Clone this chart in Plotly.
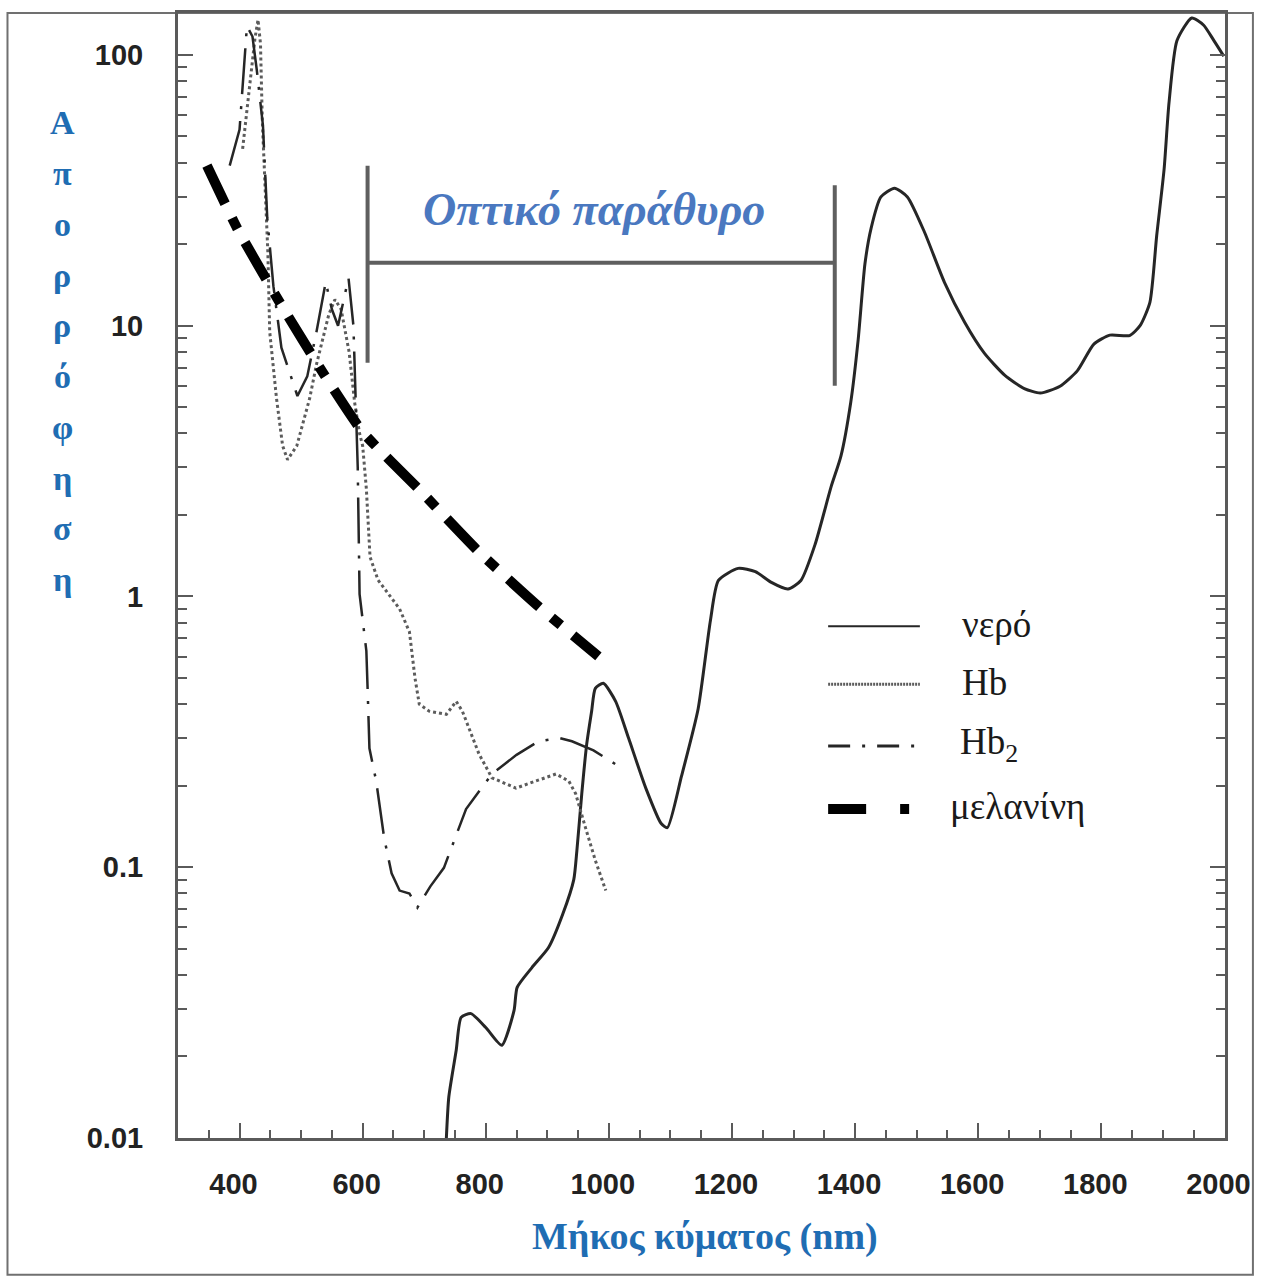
import plotly.graph_objects as go

# ---------------- data ----------------
water_nm = [736, 740, 752, 760, 776, 800, 826, 846, 851, 875, 902, 925, 943, 948, 956, 964, 972, 978,
            991, 1011, 1032, 1060, 1085, 1095, 1118, 1145, 1165, 1178, 1210, 1238, 1264, 1291, 1312, 1335,
            1361, 1377, 1393, 1405, 1416, 1426, 1442, 1464, 1485, 1513, 1545, 1578, 1610, 1643, 1675, 1701,
            1733, 1761, 1788, 1814, 1846, 1863, 1879, 1890, 1902, 1910, 1923, 1947, 1966, 1983, 1999]
water_abs = [0.01, 0.0142, 0.0211, 0.0279, 0.0288, 0.0256, 0.022, 0.0296, 0.036, 0.0426, 0.0505, 0.067, 0.09,
             0.115, 0.187, 0.285, 0.377, 0.458, 0.478, 0.41, 0.30, 0.196, 0.145, 0.14, 0.217, 0.384, 0.816,
             1.146, 1.27, 1.236, 1.127, 1.066, 1.146, 1.556, 2.54, 3.30, 5.22, 8.87, 16.9, 22.9, 29.9, 32.2,
             29.9, 22.1, 14.5, 10.3, 7.92, 6.57, 5.86, 5.64, 5.98, 6.81, 8.55, 9.23, 9.2, 10.0, 12.2, 21.5,
             37.7, 66.5, 113, 137, 129, 113, 99]

hb_nm = [405, 418, 425, 430, 434, 437, 444, 446, 449, 460, 470, 478, 493, 502, 514, 525, 535, 545, 555,
         565, 578, 587, 595, 600, 606, 612, 625, 645, 660, 676, 685, 692, 708, 736, 752, 762, 789, 810,
         849, 881, 914, 935, 946, 962, 978, 995]
hb_abs = [45, 80, 115, 135, 110, 57, 26, 18.6, 9.5, 5.4, 3.6, 3.2, 3.6, 4.3, 5.4, 7.2, 8.9, 11, 12.5,
          11.5, 8, 5.2, 4.0, 3.6, 2.5, 1.4, 1.15, 1.0, 0.9, 0.74, 0.5, 0.40, 0.377, 0.367, 0.41, 0.377,
          0.262, 0.214, 0.196, 0.208, 0.221, 0.208, 0.187, 0.14, 0.106, 0.082]

hbo2_nm = [384, 400, 412, 421, 428, 438, 445, 455, 468, 494, 510, 525, 540, 550, 560, 568, 577, 585,
           592, 595, 606, 608, 611, 622, 635, 647, 660, 676, 689, 710, 732, 768, 810, 850, 886, 920,
           940, 975, 1011]
hbo2_abs = [39, 53, 128, 117, 88, 55, 25, 14, 8.3, 5.5, 6.5, 9.5, 14.5, 11.5, 10, 12, 15, 10,
            3, 1.02, 0.63, 0.46, 0.275, 0.208, 0.128, 0.095, 0.082, 0.080, 0.071, 0.085, 0.0995, 0.164,
            0.221, 0.26, 0.292, 0.30, 0.292, 0.27, 0.24]

melanin_nm = [347, 397, 468, 538, 600, 692, 789, 886, 983]
melanin_abs = [39.0, 22.7, 11.9, 6.57, 4.05, 2.48, 1.46, 0.918, 0.601]

# optical window bracket
window_nm = [608, 1367]
window_left_span = [7.3, 39]
window_right_span = [6.0, 33]
window_bar_level = 17.1

x_tickvals = [400, 600, 800, 1000, 1200, 1400, 1600, 1800, 2000]
x_ticktext = ["400", "600", "800", "1000", "1200", "1400", "1600", "1800", "2000"]
y_tickvals = [0.01, 0.1, 1, 10, 100]
y_ticktext = ["0.01", "0.1", "1", "10", "100"]

legend_labels = ["νερό", "Hb", "Hb<sub>2</sub>", "μελανίνη"]
y_title = "Απορρόφηση"
x_title = "Μήκος κύματος (nm)"
window_label = "Οπτικό παράθυρο"

# ---------------- styles ----------------
W, H = 1261, 1279
ML, MR, MT, MB = 178, 33, 10, 141
PW, PH = W - ML - MR, H - MT - MB
AXC = "#5a5a5a"
BLUE = "#1f6db3"
WBLUE = "#4a78c0"
SERIF = "Liberation Serif, Times New Roman, serif"
SANS = "Liberation Sans, Arial, sans-serif"

def px2paper_x(px):
    return (px - ML) / PW

def py2paper_y(py):
    return (MT + PH - py) / PH

styles = {
    "water": dict(color="#262626", width=3, dash="solid"),
    "hb": dict(color="#5c5c5c", width=3, dash="3px,3px"),
    "hbo2": dict(color="#262626", width=2.5, dash="46px,12px,3px,12px"),
    "melanin": dict(color="#000000", width=10, dash="42px,16px,12px,16px"),
}

fig = go.Figure()
fig.add_trace(go.Scatter(x=water_nm, y=water_abs, mode="lines",
                         line=dict(**styles["water"], shape="spline", smoothing=0.6), showlegend=False))
fig.add_trace(go.Scatter(x=hb_nm, y=hb_abs, mode="lines",
                         line=dict(**styles["hb"]), showlegend=False))
fig.add_trace(go.Scatter(x=hbo2_nm, y=hbo2_abs, mode="lines",
                         line=dict(**styles["hbo2"]), showlegend=False))
fig.add_trace(go.Scatter(x=melanin_nm, y=melanin_abs, mode="lines",
                         line=dict(**styles["melanin"], shape="spline", smoothing=0.5), showlegend=False))

# bracket for the optical window
br = dict(color="#5f5f5f", width=4)
fig.add_trace(go.Scatter(x=[window_nm[0], window_nm[0]], y=window_left_span, mode="lines",
                         line=br, showlegend=False, hoverinfo="skip"))
fig.add_trace(go.Scatter(x=[window_nm[1], window_nm[1]], y=window_right_span, mode="lines",
                         line=br, showlegend=False, hoverinfo="skip"))
fig.add_trace(go.Scatter(x=window_nm, y=[window_bar_level, window_bar_level], mode="lines",
                         line=br, showlegend=False, hoverinfo="skip"))

annotations = []
shapes = []

# window label
annotations.append(dict(text=window_label, x=px2paper_x(595), y=py2paper_y(207),
                        xref="paper", yref="paper", showarrow=False, xanchor="center", yanchor="middle",
                        font=dict(family=SERIF, size=46, color=WBLUE, style="italic", weight="bold")))

# y-axis title: stacked letters
for i, ch in enumerate(y_title):
    annotations.append(dict(text=ch, x=px2paper_x(62), y=py2paper_y(120 + i * 50.9),
                            xref="paper", yref="paper", showarrow=False, xanchor="center",
                            yanchor="middle",
                            font=dict(family=SERIF, size=34, color=BLUE, weight="bold")))

# x-axis title
annotations.append(dict(text=x_title, x=px2paper_x(707), y=py2paper_y(1237), xref="paper", yref="paper",
                        showarrow=False, xanchor="center", yanchor="middle",
                        font=dict(family=SERIF, size=38, color=BLUE, weight="bold")))

# custom legend
leg_rows = [625, 683, 745, 808]
leg_text_x = [962, 962, 960, 950]
leg_keys = ["water", "hb", "hbo2", "melanin"]
leg_dash = {"water": "solid", "hb": "2px,1px", "hbo2": "22px,12px,3px,12px",
            "melanin": "38px,34px,9px,20px"}
leg_width = {"water": 2, "hb": 3, "hbo2": 3, "melanin": 10}
for key, row, tx, label in zip(leg_keys, leg_rows, leg_text_x, legend_labels):
    shapes.append(dict(type="line", xref="paper", yref="paper",
                       x0=px2paper_x(830), x1=px2paper_x(922), y0=py2paper_y(row), y1=py2paper_y(row),
                       line=dict(color=styles[key]["color"], width=leg_width[key], dash=leg_dash[key])))
    annotations.append(dict(text=label, x=px2paper_x(tx), y=py2paper_y(row - 2), xref="paper", yref="paper",
                            showarrow=False, xanchor="left", yanchor="middle",
                            font=dict(family=SERIF, size=37, color="#1a1a1a")))

# outer frame
shapes.append(dict(type="rect", xref="paper", yref="paper",
                   x0=px2paper_x(7), x1=px2paper_x(1256), y0=py2paper_y(1275), y1=py2paper_y(10),
                   line=dict(color="#707070", width=2), fillcolor="rgba(0,0,0,0)", layer="below"))

fig.update_layout(
    width=W, height=H,
    margin=dict(l=ML, r=MR, t=MT, b=MB, pad=0),
    paper_bgcolor="white", plot_bgcolor="white",
    annotations=annotations, shapes=shapes,
    showlegend=False,
)
fig.update_xaxes(
    range=[300, 2001], tickmode="array", tickvals=x_tickvals, ticktext=x_ticktext,
    ticks="inside", ticklen=15, tickwidth=2, tickcolor=AXC,
    showline=True, linecolor=AXC, linewidth=3, mirror=True,
    showgrid=False, zeroline=False,
    tickfont=dict(family=SANS, size=29, color="#222222", weight="bold"),
    ticklabelstandoff=18, ticklabelshift=-6,
    minor=dict(ticks="inside", ticklen=8, tickwidth=2, tickcolor=AXC, tickmode="linear", tick0=0, dtick=50,
               showgrid=False),
)
fig.update_yaxes(
    type="log", range=[-2, 2.155], tickmode="array", tickvals=y_tickvals, ticktext=y_ticktext,
    ticks="inside", ticklen=15, tickwidth=2, tickcolor=AXC,
    showline=True, linecolor=AXC, linewidth=3, mirror="allticks",
    showgrid=False, zeroline=False,
    tickfont=dict(family=SANS, size=29, color="#222222", weight="bold"),
    ticklabelstandoff=26,
    minor=dict(ticks="inside", ticklen=9, tickwidth=2, tickcolor=AXC, dtick="D1", showgrid=False),
)

fig.write_html("out.html")
